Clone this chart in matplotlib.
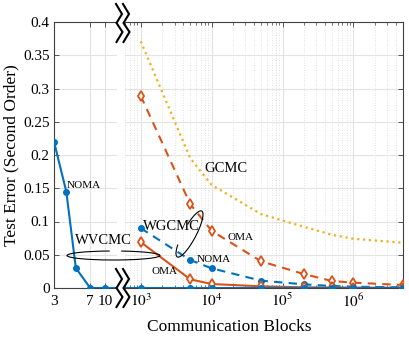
import matplotlib
matplotlib.use("Agg")
import matplotlib.pyplot as plt
from matplotlib.patches import Arc, Polygon
from matplotlib.ticker import LogLocator, NullLocator, NullFormatter, FixedLocator

plt.rcParams['font.family'] = ['Liberation Serif', 'DejaVu Serif']
plt.rcParams['mathtext.fontset'] = 'stix'

# ---------------- data ----------------
small_x = [3, 4, 5, 7, 10]
noma_wv_small = [0.22, 0.145, 0.03, 0.0, 0.0]

blocks = [1e3, 5e3, 1e4, 5e4, 2e5, 5e5, 1e6, 5e6]
gcmc = [0.371, 0.195, 0.155, 0.111, 0.092, 0.080, 0.074, 0.068]
oma_wg = [0.289, 0.126, 0.086, 0.040, 0.021, 0.0105, 0.008, 0.0045]
noma_wg = [0.090, 0.042, 0.0296, 0.011, 0.0055, 0.003, 0.002, 0.001]
oma_wv = [0.069, 0.013, 0.006, 0.0025, 0.001, 0.0008, 0.0005, 0.0003]
noma_wv = [0.0, 0.0, 0.0, 0.0, 0.0, 0.0, 0.0, 0.0]

left_ticks = [3, 7, 10]
right_ticks = [1e3, 1e4, 1e5, 1e6]
y_ticks = [0, 0.05, 0.1, 0.15, 0.2, 0.25, 0.3, 0.35, 0.4]

BLUE = '#0072BD'
ORANGE = '#D95319'
YELLOW = '#EDB120'
AXC = '0.25'
GRIDC = '#e3e3e3'

W, H = 409, 338
fig = plt.figure(figsize=(W / 100, H / 100), dpi=100)


def box(x0, x1, ytop, ybot):
    return [x0 / W, 1 - ybot / H, (x1 - x0) / W, (ybot - ytop) / H]


axL = fig.add_axes(box(54, 117, 22, 288))
axR = fig.add_axes(box(125, 403, 22, 288))

all_x = small_x + blocks
all_noma_wv = noma_wv_small + noma_wv

# ---------------- left (small x) part ----------------
axL.set_xscale('log')
axL.plot(all_x, all_noma_wv, '-o', color=BLUE, lw=1.5, ms=4, zorder=5)
axL.set_xlim(3, 13.1)
axL.set_ylim(0, 0.4)
axL.xaxis.set_major_locator(FixedLocator(left_ticks))
axL.set_xticklabels([str(t) for t in left_ticks])
axL.xaxis.set_minor_locator(NullLocator())
axL.xaxis.set_minor_formatter(NullFormatter())
axL.set_yticks(y_ticks)
axL.set_yticklabels(['0', '0.05', '0.1', '0.15', '0.2', '0.25', '0.3', '0.35', '0.4'])
axL.spines['right'].set_visible(False)
axL.tick_params(direction='in', top=True, right=False, length=3.5,
                width=0.6, color=AXC, labelsize=11, pad=3)
axL.tick_params(axis='x', pad=5)
axL.grid(True, which='major', color=GRIDC, lw=0.8)
axL.set_ylabel('Test Error (Second Order)', fontsize=12.5, labelpad=3)

# ---------------- right (large x) part ----------------
axR.set_xscale('log')
axR.plot(blocks, gcmc, ':', color=YELLOW, lw=1.6, zorder=3)
axR.plot(blocks, oma_wg, '--d', color=ORANGE, lw=1.5, ms=5,
         mfc='white', mew=1.3, dashes=(4, 3), zorder=4)
axR.plot(blocks, noma_wg, '--o', color=BLUE, lw=1.5, ms=4, dashes=(4, 3), zorder=4)
axR.plot(blocks, oma_wv, '-d', color=ORANGE, lw=1.5, ms=5,
         mfc='white', mew=1.3, zorder=4)
axR.plot(all_x, all_noma_wv, '-o', color=BLUE, lw=1.5, ms=4, zorder=5)
axR.set_xlim(600, 5e6)
axR.set_ylim(0, 0.4)
axR.xaxis.set_major_locator(FixedLocator(right_ticks))
axR.set_xticklabels([r'$10^{%d}$' % e for e in [3, 4, 5, 6]])
axR.xaxis.set_minor_locator(LogLocator(base=10, subs=range(2, 10), numticks=20))
axR.xaxis.set_minor_formatter(NullFormatter())
axR.set_yticks(y_ticks)
axR.spines['left'].set_visible(False)
axR.tick_params(direction='in', top=True, right=True, left=False,
                labelleft=False, length=3.5, width=0.6, color=AXC, labelsize=11)
axR.tick_params(axis='x', which='minor', direction='in', top=True, length=2,
                width=0.5, color=AXC)
axR.tick_params(axis='x', pad=3)
axR.grid(True, which='major', color=GRIDC, lw=0.8)
axR.grid(True, which='minor', axis='x', color='#d8d8d8', lw=0.6, ls=(0, (1, 2)))

for ax in (axL, axR):
    for s in ax.spines.values():
        s.set_color(AXC)
        s.set_linewidth(0.8)
    ax.set_axisbelow(True)

fig.text(229 / W, 1 - 327 / H, 'Communication Blocks', fontsize=12.5,
         ha='center', va='center')

# ---------------- overlay: break marks and annotations (pixel space) ----------------
ov = fig.add_axes([0, 0, 1, 1], zorder=10)
ov.set_xlim(0, W)
ov.set_ylim(0, H)
ov.axis('off')
ov.patch.set_alpha(0)


def zig(x0, yc):
    xs = [x0, x0 + 6, x0 + 0.5, x0 + 6.5, x0 + 0.5]
    ys = [yc - 19, yc - 9, yc, yc + 9, yc + 19]
    return xs, [H - y for y in ys]


for yc in (23, 288):
    xa, ya = zig(116, yc)
    xb, yb = zig(123, yc)
    poly = list(zip(xa, ya)) + list(zip(xb, yb))[::-1]
    ov.add_patch(Polygon(poly, closed=True, fc='white', ec='none'))
    ov.plot(xa, ya, color='black', lw=1.5, solid_joinstyle='miter')
    ov.plot(xb, yb, color='black', lw=1.5, solid_joinstyle='miter')

ov.add_patch(Arc((113.5, H - 255.5), 93, 9, angle=0, theta1=130, theta2=30,
                 color='black', lw=0.8))
ov.add_patch(Arc((189.5, H - 234), 52, 13, angle=62, theta1=160, theta2=40,
                 color='black', lw=0.8))

labels = [
    ('NOMA', 84, 185, 8),
    ('WVCMC', 103.5, 241, 10.5),
    ('WGCMC', 171, 226, 10.5),
    ('GCMC', 226, 169, 10.5),
    ('OMA', 240, 237, 8),
    ('NOMA', 214, 259, 8),
    ('OMA', 165, 271.5, 8),
]
for txt, x, y, fs in labels:
    ov.text(x, H - y, txt, fontsize=fs, ha='center', va='center')

fig.savefig('out.png', dpi=100)
